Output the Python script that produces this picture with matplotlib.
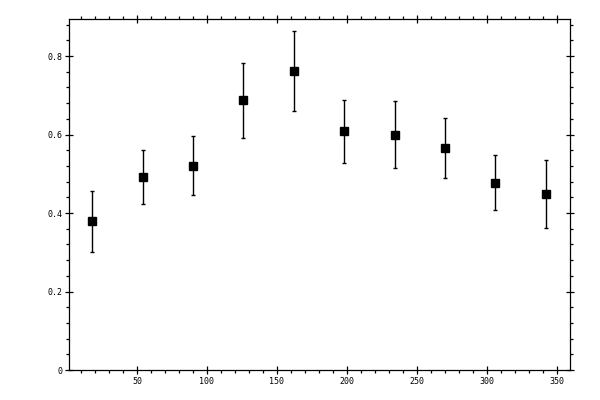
import matplotlib
matplotlib.use('Agg')
import matplotlib.pyplot as plt
from matplotlib.ticker import MultipleLocator, FuncFormatter

# bin centres (degrees) and measured values with asymmetric errors
angle  = [18, 54, 90, 126, 162, 198, 234, 270, 306, 342]
value  = [0.379, 0.491, 0.521, 0.687, 0.761, 0.608, 0.598, 0.565, 0.476, 0.448]
err_lo = [0.079, 0.069, 0.076, 0.097, 0.102, 0.081, 0.084, 0.077, 0.069, 0.087]
err_hi = [0.076, 0.069, 0.074, 0.094, 0.102, 0.079, 0.087, 0.076, 0.071, 0.086]

x_ticks = [50, 100, 150, 200, 250, 300, 350]
y_ticks = [0, 0.2, 0.4, 0.6, 0.8]

fig = plt.figure(figsize=(6, 4), dpi=100)
ax = fig.add_axes([0.1155, 0.075, 0.8345, 0.8767])

ax.errorbar(angle, value, yerr=[err_lo, err_hi], fmt='s', color='black',
            markersize=5.8, elinewidth=1.0, capsize=1.7, capthick=1.0)

ax.set_xlim(1.7, 359.3)
ax.set_ylim(0, 0.8935)
ax.set_xticks(x_ticks)
ax.set_yticks(y_ticks)
ax.xaxis.set_minor_locator(MultipleLocator(10))
ax.yaxis.set_minor_locator(MultipleLocator(0.04))
ax.yaxis.set_major_formatter(FuncFormatter(lambda v, p: ('%g' % round(v, 2))))

for sp in ax.spines.values():
    sp.set_linewidth(0.9)

ax.tick_params(which='major', direction='inout', length=5.5, width=0.9,
               top=True, right=True, labelsize=6, pad=2.5)
ax.tick_params(which='minor', direction='out', length=2.4, width=0.9,
               top=True, right=True)
for lab in ax.get_xticklabels() + ax.get_yticklabels():
    lab.set_family('DejaVu Sans Mono')

fig.savefig('out.png', dpi=100)
